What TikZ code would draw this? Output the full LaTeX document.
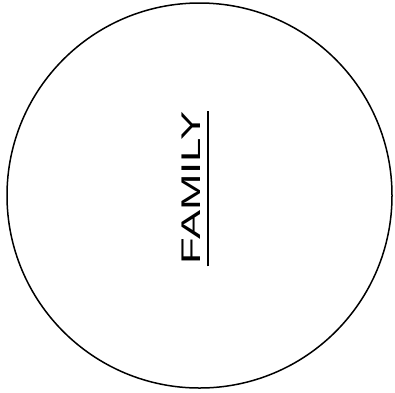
\documentclass[tikz,border=0pt]{standalone}
\usepackage{fontspec}
\setmainfont{Liberation Sans}
\usetikzlibrary{calc}

\begin{document}
\begin{tikzpicture}[x=1pt,y=-1pt,circ/.style={draw,circle,line width=1.5pt,minimum size=385pt,inner sep=0pt},lbl/.style={font=\fontsize{27}{30}\selectfont,rotate=90,anchor=base,inner sep=0pt}]
    \useasboundingbox (0,0) rectangle (395,392);
    % Circle and label
    \node[circ] at (199.5,195.5) (family) {};
    \node[lbl] at (200,188) (famLabel) {\scalebox{1.62}[1]{FAMILY}};
    % Underline
    \draw[line width=1.8pt] ($(famLabel.base west)+(8,2)$) -- ($(famLabel.base east)+(8,-1)$);
\end{tikzpicture}
\end{document}
